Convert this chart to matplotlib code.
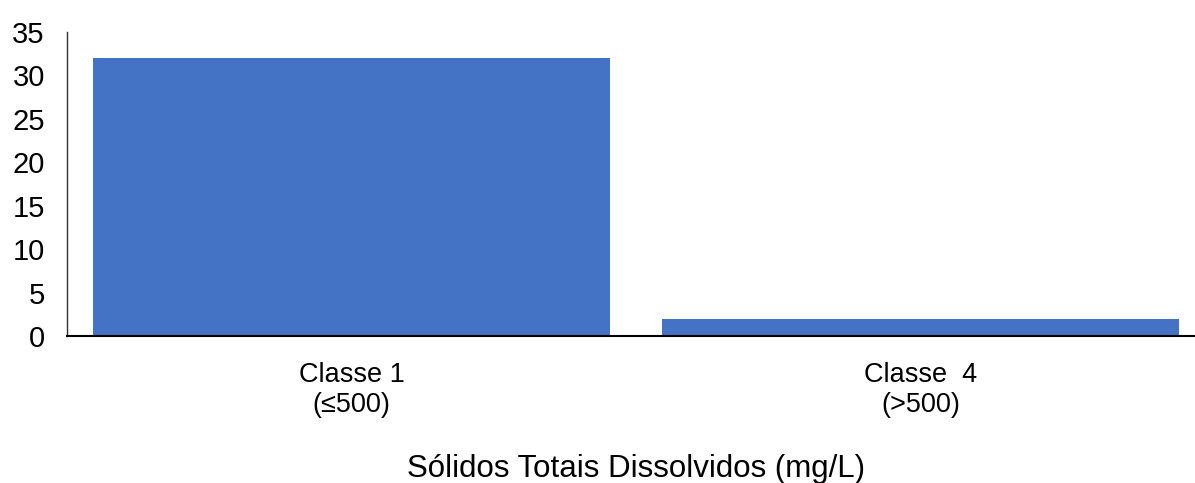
import matplotlib.pyplot as plt

categories = ['Classe 1\n(≤500)', 'Classe  4\n(>500)']
values = [32, 2]
yticks = [0, 5, 10, 15, 20, 25, 30, 35]

plt.rcParams['font.family'] = ['Liberation Sans', 'DejaVu Sans']

fig = plt.figure(figsize=(11.95, 4.83), dpi=100)
ax = fig.add_axes([67 / 1195, (483 - 336) / 483, (1205 - 67) / 1195, (336 - 32) / 483])

x = range(len(categories))
ax.bar(x, values, width=0.909, color='#4472C4')
ax.set_xlim(-0.5, 1.5)
ax.set_ylim(0, 35)
ax.set_yticks(yticks)
ax.set_xticks(list(x))
ax.set_xticklabels(categories, fontsize=19.5, linespacing=1.2)
ax.tick_params(axis='y', length=0, pad=16, labelsize=21)
ax.tick_params(axis='x', length=0, pad=19)
ax.set_xlabel('Sólidos Totais Dissolvidos (mg/L)', fontsize=22.5, labelpad=26)

for s in ['top', 'right']:
    ax.spines[s].set_visible(False)
ax.spines['left'].set_color('#333333')
ax.spines['left'].set_linewidth(1.0)
ax.spines['bottom'].set_color('black')
ax.spines['bottom'].set_linewidth(1.5)

fig.savefig('out.png', dpi=100)
